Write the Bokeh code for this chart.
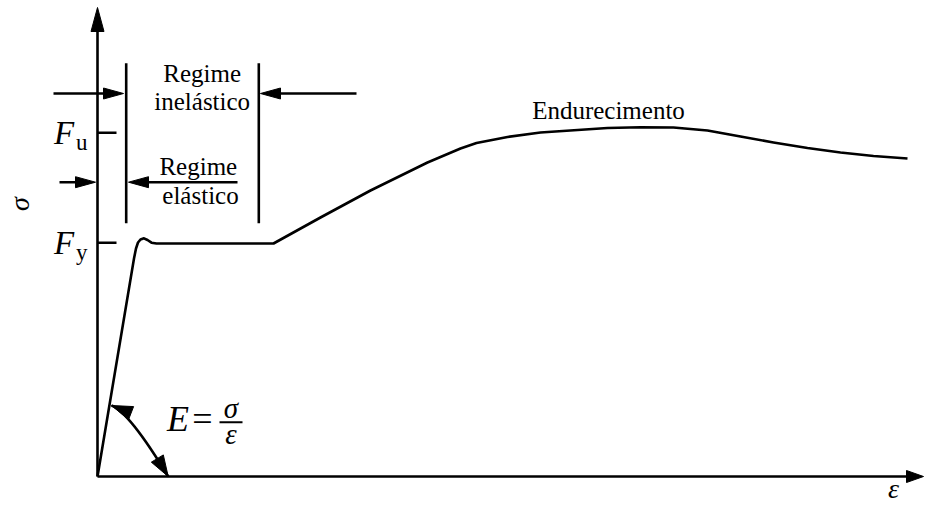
import numpy as np
from bokeh.plotting import figure
from bokeh.models import Range1d
from bokeh.core.properties import value
from bokeh.embed import file_html
from bokeh.resources import INLINE

# ---------------- data (schematic units, origin at axes crossing) ----------------
strain = [0, 36.5, 38.5, 40.5, 43, 46.5, 50, 54, 59, 176, 223, 273, 330, 363,
          379, 410, 443, 510, 543, 576, 610, 643, 676, 710, 743, 776, 810]
stress = [0, 218, 228, 234, 237, 238.2, 236.5, 233.8, 233, 233, 259, 286, 314, 328,
          333.5, 339.5, 344, 348.5, 349.2, 349, 346, 340, 334, 328.5, 324, 320.5, 318]

Fy = 233.7
Fu = 343.7
tick_labels = ["y", "u"]
tick_values = [Fy, Fu]

region_bounds = [28.7, 161.3]          # elastic / inelastic limits
region_ytop, region_ybot = 413.3, 253.3
inel_labels = ["Regime", "inelástico"]
el_labels = ["Regime", "elástico"]
hard_label = "Endurecimento"

SERIF = value("Liberation Serif")
LW = 2.6
K = 0.33   # baseline correction (fraction of font size)

W, H = 925, 507
p = figure(width=W, height=H, output_backend="svg", toolbar_location=None,
           x_range=Range1d(-97, W - 97), y_range=Range1d(476 - H, 476),
           min_border=0, outline_line_color=None)
p.axis.visible = False
p.grid.visible = False
p.background_fill_color = "white"
p.border_fill_color = "white"


def txt(xs, ys, texts, size, italic=False, align="center", angle=0.0):
    p.text(x=xs, y=[y + K * size for y in ys], text=texts, text_font=SERIF,
           text_font_style="italic" if italic else "normal",
           text_font_size=f"{size}px", text_align=align,
           text_baseline="alphabetic", angle=angle, text_color="black")


def head(tip, direction, length, half):
    d = np.asarray(direction, float)
    d = d / np.hypot(*d)
    n = np.array([-d[1], d[0]])
    t = np.asarray(tip, float)
    b = t - d * length
    pts = [t, b + n * half, b - n * half]
    return [q[0] for q in pts], [q[1] for q in pts]


heads_x, heads_y = [], []


def add_head(tip, direction, length, half):
    hx, hy = head(tip, direction, length, half)
    heads_x.append(hx)
    heads_y.append(hy)


# axes
x_tip, y_tip = 826, 469
p.line([0, 0], [0, y_tip - 20], line_color="black", line_width=LW)
add_head((0, y_tip), (0, 1), 24, 6.5)
p.line([0, x_tip - 14], [0, 0], line_color="black", line_width=LW)
add_head((x_tip, 0), (1, 0), 17, 6)

# ticks Fy / Fu
p.segment(x0=[0, 0], y0=tick_values, x1=[19, 19], y1=tick_values,
          line_color="black", line_width=LW)
txt([-33.5, -33.5], [Fy - 11, Fu - 11], ["F", "F"], 33, italic=True)
txt([-21.5, -21.5], [Fy - 17, Fu - 17.5], tick_labels, 23, align="left")

# axis titles
p.text(x=[-78], y=[272.5], text=["σ"], text_font=SERIF, text_font_style="italic",
       text_font_size="28px", text_align="center", text_baseline="middle",
       angle=np.pi / 2, text_color="black")
txt([796], [-21], ["ε"], 28, italic=True)

# regime limits
p.segment(x0=region_bounds, y0=[region_ybot] * 2, x1=region_bounds, y1=[region_ytop] * 2,
          line_color="black", line_width=LW)

# inelastic arrows
y_in = 383
p.line([-44, 26 - 16], [y_in, y_in], line_color="black", line_width=LW)
add_head((26, y_in), (1, 0), 20, 5.5)
p.line([259, 163 + 16], [y_in, y_in], line_color="black", line_width=LW)
add_head((163, y_in), (-1, 0), 20, 5.5)

# elastic arrows
y_el = 294.3
p.line([-38, -2 - 16], [y_el, y_el], line_color="black", line_width=LW)
add_head((-2, y_el), (1, 0), 20, 5.5)
p.line([140, 31 + 16], [y_el, y_el], line_color="black", line_width=LW)
add_head((31, y_el), (-1, 0), 20, 5.5)

txt([104.7, 104.7], [394.3, 366.7], inel_labels, 25)
txt([100.8, 103], [302, 272.7], el_labels, 25)
txt([511], [357.7], [hard_label], 25)

# stress-strain curve
p.line(strain, stress, line_color="black", line_width=LW, line_join="round")

# modulus arc E = sigma / epsilon
a0 = (14.0, 71.0)
a1 = (70.7, 0.0)
ac = (32.0, 64.0)
p.quadratic(x0=[a0[0]], y0=[a0[1]], x1=[a1[0]], y1=[a1[1]],
            cx=[ac[0]], cy=[ac[1]], line_color="black", line_width=LW)
add_head(a0, (a0[0] - ac[0], a0[1] - ac[1]), 21, 7)
add_head(a1, (a1[0] - ac[0], a1[1] - ac[1]), 21, 7)

txt([80.5], [46], ["E"], 36, italic=True)
txt([105], [46], ["="], 36)
p.segment(x0=[122], y0=[54.3], x1=[145], y1=[54.3], line_color="black", line_width=2)
txt([133.5, 133.5], [59, 33], ["σ", "ε"], 29, italic=True)

p.patches(heads_x, heads_y, fill_color="black", line_color="black", line_width=1)

open("out.html", "w").write(file_html(p, INLINE))
